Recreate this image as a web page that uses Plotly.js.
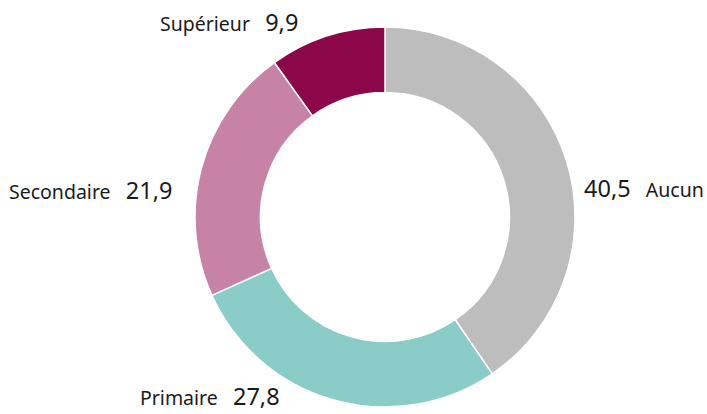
<!DOCTYPE html>
<html>
<head>
<meta charset="utf-8">
<script src="https://cdn.plot.ly/plotly-3.0.1.min.js"></script>
<style>html,body{margin:0;padding:0;background:#fff;}#chart{width:707px;height:414px;}</style>
</head>
<body>
<div id="chart"></div>
<script>
const categories = ["Aucun", "Primaire", "Secondaire", "Supérieur"];
const values = [40.5, 27.8, 21.9, 9.9];
const colors = ["#BDBDBD", "#89CCC8", "#C683A5", "#8C0749"];

// label layout (style/position only)
const labelStyle = [
  {x: 582, y: 188, anchor: "left", valueFirst: true},
  {x: 282, y: 396, anchor: "right", valueFirst: false},
  {x: 174, y: 190, anchor: "right", valueFirst: false},
  {x: 300, y: 22, anchor: "right", valueFirst: false}
];

const W = 707, H = 414;
const fmt = v => String(v).replace(".", ",");
const gap = "\u00A0\u00A0\u00A0";

const annotations = categories.map((c, i) => {
  const s = labelStyle[i];
  const val = '<span style="font-size:23.5px">' + fmt(values[i]) + '</span>';
  const name = '<span style="font-size:19.5px">' + c + '</span>';
  return {
    xref: "paper", yref: "paper",
    x: s.x / W, y: 1 - s.y / H,
    xanchor: s.anchor, yanchor: "middle",
    showarrow: false,
    text: s.valueFirst ? val + gap + name : name + gap + val,
    font: {family: "Noto Sans", color: "#1a1a1a", size: 19.5}
  };
});

const data = [{
  type: "pie",
  labels: categories,
  values: values,
  sort: false,
  direction: "clockwise",
  rotation: 0,
  hole: 0.655,
  textinfo: "none",
  hoverinfo: "label+value",
  marker: {colors: colors, line: {color: "#ffffff", width: 1.5}},
  domain: {x: [195 / W, 575 / W], y: [7 / H, 387 / H]}
}];

const layout = {
  width: W, height: H,
  margin: {l: 0, r: 0, t: 0, b: 0},
  showlegend: false,
  separators: ", ",
  paper_bgcolor: "#ffffff",
  plot_bgcolor: "#ffffff",
  font: {family: "Noto Sans", color: "#1a1a1a"},
  annotations: annotations
};

Plotly.newPlot("chart", data, layout, {displayModeBar: false, staticPlot: true});
</script>
</body>
</html>
